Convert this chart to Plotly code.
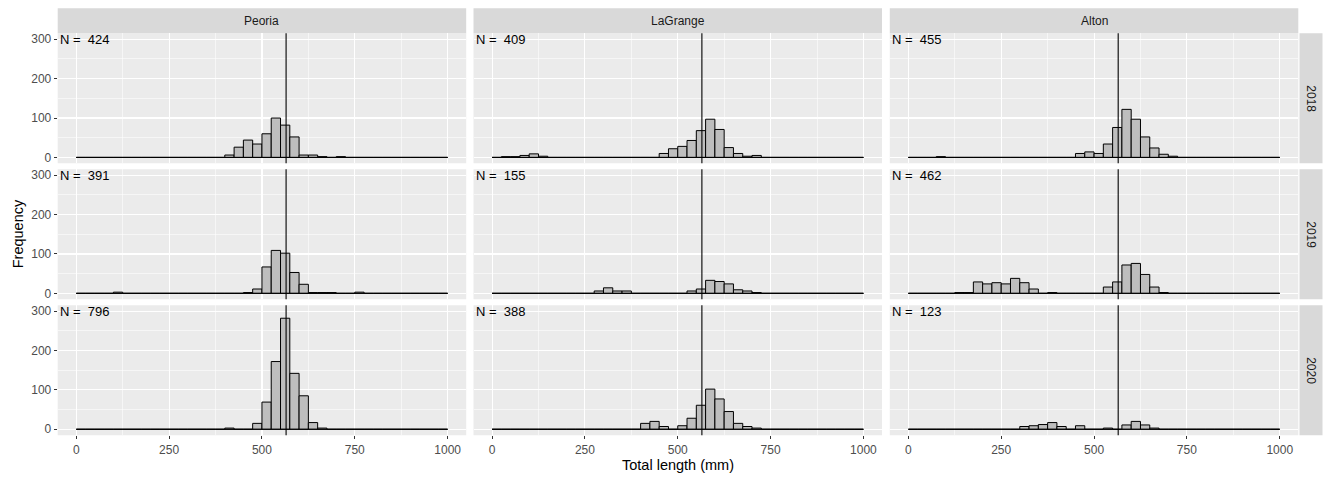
import numpy as np
import plotly.graph_objects as go

# ---------------- data ----------------
SITES = ["Peoria", "LaGrange", "Alton"]
YEARS = ["2018", "2019", "2020"]
N_LABELS = {
    ("Peoria", "2018"): 424, ("LaGrange", "2018"): 409, ("Alton", "2018"): 455,
    ("Peoria", "2019"): 391, ("LaGrange", "2019"): 155, ("Alton", "2019"): 462,
    ("Peoria", "2020"): 796, ("LaGrange", "2020"): 388, ("Alton", "2020"): 123,
}
BIN_WIDTH = 25
BIN_START = 0
BIN_END = 1000
REF_LENGTH = 565  # vertical reference line (mm)

# counts per 25-mm bin, bins 0-25, 25-50, ..., 975-1000 (40 bins)
PEORIA_2018 = [0, 0, 0, 0, 0, 0, 0, 0, 0, 0, 0, 0, 0, 0, 0, 0, 6, 26, 44, 34,
               60, 100, 82, 52, 6, 6, 2, 0, 2, 0, 0, 0, 0, 0, 0, 0, 0, 0, 0, 0]
LAGRANGE_2018 = [0, 2, 2, 5, 9, 3, 0, 0, 0, 0, 0, 0, 0, 0, 0, 0, 0, 0, 10, 22,
                 28, 43, 68, 97, 71, 25, 10, 3, 5, 0, 0, 0, 0, 0, 0, 0, 0, 0, 0, 0]
ALTON_2018 = [0, 0, 0, 2, 0, 0, 0, 0, 0, 0, 0, 0, 0, 0, 0, 0, 0, 0, 10, 14,
              10, 34, 76, 122, 97, 52, 24, 8, 3, 0, 0, 0, 0, 0, 0, 0, 0, 0, 0, 0]
PEORIA_2019 = [0, 0, 0, 0, 3, 0, 0, 0, 0, 0, 0, 0, 0, 0, 0, 0, 0, 0, 2, 11,
               67, 109, 102, 53, 23, 2, 2, 2, 0, 0, 3, 0, 0, 0, 0, 0, 0, 0, 0, 0]
LAGRANGE_2019 = [0, 0, 0, 0, 0, 0, 0, 0, 0, 0, 0, 6, 14, 6, 6, 0, 0, 0, 0, 0,
                 0, 6, 11, 33, 30, 24, 9, 6, 2, 0, 0, 0, 0, 0, 0, 0, 0, 0, 0, 0]
ALTON_2019 = [0, 0, 0, 0, 0, 2, 2, 29, 24, 27, 24, 38, 27, 11, 0, 2, 0, 0, 0, 0,
              0, 16, 29, 72, 76, 48, 16, 2, 0, 0, 0, 0, 0, 0, 0, 0, 0, 0, 0, 0]
PEORIA_2020 = [0, 0, 0, 0, 0, 0, 0, 0, 0, 0, 0, 0, 0, 0, 0, 0, 3, 0, 0, 15,
               69, 172, 282, 142, 85, 17, 3, 0, 0, 0, 0, 0, 0, 0, 0, 0, 0, 0, 0, 0]
LAGRANGE_2020 = [0, 0, 0, 0, 0, 0, 0, 0, 0, 0, 0, 0, 0, 0, 0, 0, 15, 20, 7, 0,
                 9, 28, 61, 102, 77, 45, 15, 7, 3, 0, 0, 0, 0, 0, 0, 0, 0, 0, 0, 0]
ALTON_2020 = [0, 0, 0, 0, 0, 0, 0, 0, 0, 0, 0, 0, 7, 9, 12, 17, 7, 0, 9, 0,
              0, 3, 0, 11, 20, 11, 3, 0, 0, 0, 0, 0, 0, 0, 0, 0, 0, 0, 0, 0]

COUNTS = {
    ("Peoria", "2018"): PEORIA_2018, ("LaGrange", "2018"): LAGRANGE_2018, ("Alton", "2018"): ALTON_2018,
    ("Peoria", "2019"): PEORIA_2019, ("LaGrange", "2019"): LAGRANGE_2019, ("Alton", "2019"): ALTON_2019,
    ("Peoria", "2020"): PEORIA_2020, ("LaGrange", "2020"): LAGRANGE_2020, ("Alton", "2020"): ALTON_2020,
}

X_TICKS = [0, 250, 500, 750, 1000]
X_MINOR = [125, 375, 625, 875]
Y_TICKS = [0, 100, 200, 300]
Y_MINOR = [50, 150, 250]
X_RANGE = [-50, 1050]
Y_RANGE = [-15, 315]
N_LABEL_Y = 300

# ---------------- layout geometry (pixels) ----------------
W, H = 1328, 478
COL_X = [(57.7, 466.2), (473.5, 882.0), (889.8, 1298.3)]
ROW_Y = [(32.5, 163.0), (169.0, 299.5), (305.5, 436.0)]
STRIP_TOP = (7.3, 32.3)
STRIP_RIGHT = (1299.5, 1322.5)

FONT = "Liberation Sans, Arial, sans-serif"
PANEL_BG = "#EBEBEB"
STRIP_BG = "#D9D9D9"
BAR_FILL = "#BEBEBE"

edges = np.arange(BIN_START, BIN_END + BIN_WIDTH, BIN_WIDTH)
centers = edges[:-1] + BIN_WIDTH / 2

fig = go.Figure()
shapes = []
annotations = []
layout_axes = {}


def px_x(v):
    return v / W


def px_y(v):
    return 1 - v / H


for r, year in enumerate(YEARS):
    for c, site in enumerate(SITES):
        p = r * 3 + c
        sfx = "" if p == 0 else str(p + 1)
        xa, ya = "x" + sfx, "y" + sfx
        counts = COUNTS[(site, year)]

        fig.add_trace(go.Bar(
            x=centers, y=counts, width=BIN_WIDTH,
            marker=dict(color=BAR_FILL, line=dict(color="black", width=1)),
            xaxis=xa, yaxis=ya, showlegend=False, hoverinfo="x+y",
        ))
        fig.add_trace(go.Scatter(
            x=[edges[0], edges[-1]], y=[0, 0], mode="lines",
            line=dict(color="black", width=1), xaxis=xa, yaxis=ya,
            showlegend=False, hoverinfo="skip",
        ))

        x0, x1 = COL_X[c]
        y0, y1 = ROW_Y[r]
        layout_axes["xaxis" + sfx] = dict(
            domain=[px_x(x0), px_x(x1)], anchor=ya, range=X_RANGE,
            tickvals=X_TICKS, showticklabels=(r == 2),
            ticks="outside" if r == 2 else "", ticklen=3, tickcolor="#333333",
            tickfont=dict(family=FONT, size=12, color="#4D4D4D"),
            showgrid=True, gridcolor="white", gridwidth=1.1,
            minor=dict(tickvals=X_MINOR, showgrid=True, gridcolor="white", gridwidth=0.55, ticks=""),
            zeroline=False, showline=False, fixedrange=True,
        )
        layout_axes["yaxis" + sfx] = dict(
            domain=[px_y(y1), px_y(y0)], anchor=xa, range=Y_RANGE,
            tickvals=Y_TICKS, showticklabels=(c == 0),
            ticks="outside" if c == 0 else "", ticklen=3, tickcolor="#333333",
            tickfont=dict(family=FONT, size=12, color="#4D4D4D"),
            showgrid=True, gridcolor="white", gridwidth=1.1,
            minor=dict(tickvals=Y_MINOR, showgrid=True, gridcolor="white", gridwidth=0.55, ticks=""),
            zeroline=False, showline=False, fixedrange=True,
        )

        # panel background
        shapes.append(dict(type="rect", xref="paper", yref="paper",
                           x0=px_x(x0), x1=px_x(x1), y0=px_y(y1), y1=px_y(y0),
                           fillcolor=PANEL_BG, line=dict(width=0), layer="below"))
        # reference vertical line
        shapes.append(dict(type="line", xref=xa, yref=ya + " domain",
                           x0=REF_LENGTH, x1=REF_LENGTH, y0=0, y1=1,
                           line=dict(color="black", width=1.1), layer="above"))
        # N label
        annotations.append(dict(
            x=X_RANGE[0], y=N_LABEL_Y, xref=xa, yref=ya,
            text="N =  %d" % N_LABELS[(site, year)], showarrow=False,
            xanchor="left", yanchor="middle",
            font=dict(family=FONT, size=13, color="black"),
        ))

# top strips
for c, site in enumerate(SITES):
    x0, x1 = COL_X[c]
    shapes.append(dict(type="rect", xref="paper", yref="paper",
                       x0=px_x(x0), x1=px_x(x1), y0=px_y(STRIP_TOP[1]), y1=px_y(STRIP_TOP[0]),
                       fillcolor=STRIP_BG, line=dict(width=0), layer="below"))
    annotations.append(dict(
        x=px_x((x0 + x1) / 2), y=px_y((STRIP_TOP[0] + STRIP_TOP[1]) / 2),
        xref="paper", yref="paper", text=site, showarrow=False,
        xanchor="center", yanchor="middle",
        font=dict(family=FONT, size=12, color="#1A1A1A"),
    ))

# right strips
for r, year in enumerate(YEARS):
    y0, y1 = ROW_Y[r]
    shapes.append(dict(type="rect", xref="paper", yref="paper",
                       x0=px_x(STRIP_RIGHT[0]), x1=px_x(STRIP_RIGHT[1]), y0=px_y(y1), y1=px_y(y0),
                       fillcolor=STRIP_BG, line=dict(width=0), layer="below"))
    annotations.append(dict(
        x=px_x((STRIP_RIGHT[0] + STRIP_RIGHT[1]) / 2), y=px_y((y0 + y1) / 2),
        xref="paper", yref="paper", text=year, showarrow=False, textangle=90,
        xanchor="center", yanchor="middle",
        font=dict(family=FONT, size=12, color="#1A1A1A"),
    ))

# axis titles
annotations.append(dict(
    x=px_x((COL_X[0][0] + COL_X[2][1]) / 2), y=px_y(466), xref="paper", yref="paper",
    text="Total length (mm)", showarrow=False, xanchor="center", yanchor="middle",
    font=dict(family=FONT, size=14.5, color="black"),
))
annotations.append(dict(
    x=px_x(18), y=px_y((ROW_Y[0][0] + ROW_Y[2][1]) / 2), xref="paper", yref="paper",
    text="Frequency", showarrow=False, textangle=-90, xanchor="center", yanchor="middle",
    font=dict(family=FONT, size=14.5, color="black"),
))

fig.update_layout(
    width=W, height=H,
    margin=dict(l=0, r=0, t=0, b=0),
    paper_bgcolor="white", plot_bgcolor="rgba(0,0,0,0)",
    bargap=0, showlegend=False,
    shapes=shapes, annotations=annotations,
    **layout_axes,
)

fig.write_html(
    "out.html",
    config={"displayModeBar": False, "staticPlot": True},
    post_script="document.body.style.margin='0';document.body.style.padding='0';document.body.style.overflow='hidden';",
)
